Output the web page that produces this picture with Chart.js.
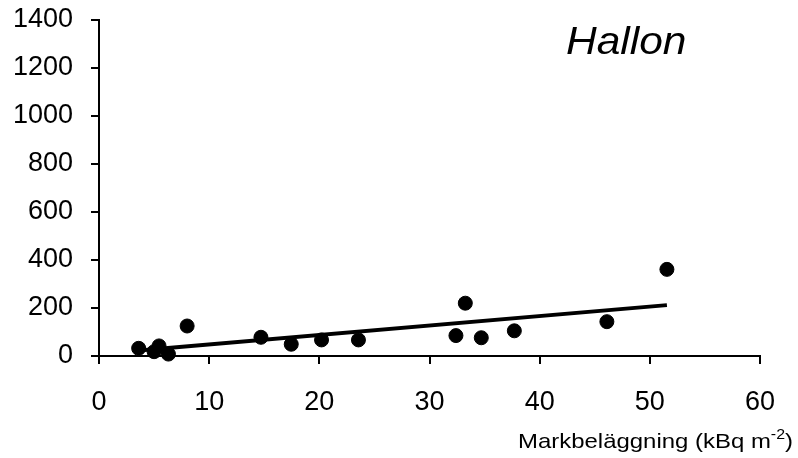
<!DOCTYPE html>
<html>
<head>
<meta charset="utf-8">
<script src="https://cdn.jsdelivr.net/npm/chart.js@4/dist/chart.umd.min.js"></script>
<style>
  html, body { margin: 0; padding: 0; background: #fff; }
  #wrap { width: 798px; height: 458px; position: relative; }
</style>
</head>
<body>
<div id="wrap"><canvas id="myChart"></canvas></div>
<script>
// Markbeläggning (kBq m-2) against activity in hallon
var xValues = [3.6, 5.0, 5.45, 6.3, 8.0, 14.7, 17.45, 20.2, 23.55, 32.4, 33.25, 34.7, 37.7, 46.1, 51.55];
var yValues = [32, 18, 42, 8, 125, 78, 49, 67, 67, 85, 220, 76, 105, 143, 361];

// end points of the fitted trend line
var trendX = [3.6, 51.55];
var trendY = [23, 212];

var xTicks = [0, 10, 20, 30, 40, 50, 60];
var yTicks = [0, 200, 400, 600, 800, 1000, 1200, 1400];

var FONT = "'Liberation Sans', Arial, sans-serif";

var points = xValues.map(function (x, i) { return { x: x, y: yValues[i] }; });
var trend = trendX.map(function (x, i) { return { x: x, y: trendY[i] }; });

// title and axis caption (with superscript) drawn on top
var labelsPlugin = {
	id: 'labels',
	afterDraw: function (chart) {
		var ctx = chart.ctx;
		ctx.save();
		ctx.fillStyle = '#000';
		ctx.textBaseline = 'alphabetic';
		ctx.textAlign = 'left';

		// slightly wide lettering
		ctx.save();
		ctx.translate(566, 54);
		ctx.scale(1.09, 1);
		ctx.font = 'italic 39px ' + FONT;
		ctx.fillText('Hallon', 0, 0);
		ctx.restore();

		var main = 'Markbeläggning (kBq m';
		var sup = '-2';
		var end = ')';
		var big = '21px ' + FONT, small = '14px ' + FONT;
		var sx = 1.14;
		ctx.font = big;
		var w1 = ctx.measureText(main).width, w3 = ctx.measureText(end).width;
		ctx.font = small;
		var w2 = ctx.measureText(sup).width;
		var total = (w1 + w2 + w3) * sx;
		ctx.translate(793 - total, 448);
		ctx.scale(sx, 1);
		ctx.font = big;
		ctx.fillText(main, 0, 0);
		ctx.font = small;
		ctx.fillText(sup, w1, -9);
		ctx.font = big;
		ctx.fillText(end, w1 + w2, 0);
		ctx.restore();
	}
};

var mixedChart = new Chart("myChart", {
	type : 'scatter',
	data : {
		datasets : [ {
			label : 'Hallon',
			data : points,
			backgroundColor : '#000',
			borderColor : '#000',
			pointRadius : 7,
			pointHoverRadius : 7,
			clip : 10,
			order : 1
		}, {
			label : 'Trend',
			data : trend,
			type : 'line',
			showLine : true,
			borderColor : '#000',
			borderWidth : 4,
			pointRadius : 0,
			fill : false,
			clip : 10,
			order : 2
		} ]
	},
	options : {
		responsive : true,
		maintainAspectRatio : false,
		animation : false,
		events : [],
		layout : { padding : { top : 20, right : 38, left : 0, bottom : 0 } },
		plugins : {
			legend : { display : false },
			title : { display : false },
			tooltip : { enabled : false }
		},
		scales : {
			x : {
				type : 'linear',
				min : 0,
				max : 60,
				afterBuildTicks : function (scale) {
					scale.ticks = xTicks.map(function (v) { return { value : v }; });
				},
				afterFit : function (scale) { scale.height = 102; },
				border : { display : true, color : '#000', width : 2 },
				grid : { drawOnChartArea : false, drawTicks : true, tickLength : 8, color : '#000', lineWidth : 2 },
				ticks : {
					color : '#000', font : { family : FONT, size : 27 }, padding : 22, maxRotation : 0,
					callback : function (v) { return String(v); }
				}
			},
			y : {
				type : 'linear',
				min : 0,
				max : 1400,
				afterBuildTicks : function (scale) {
					scale.ticks = yTicks.map(function (v) { return { value : v }; });
				},
				afterFit : function (scale) {
					scale.width = 99;
					// let the top label hang above the plot area
					scale.paddingTop = 0;
					scale.paddingBottom = 0;
				},
				border : { display : true, color : '#000', width : 2 },
				grid : { drawOnChartArea : false, drawTicks : true, tickLength : 8, color : '#000', lineWidth : 2 },
				ticks : {
					color : '#000', font : { family : FONT, size : 27 }, padding : 18,
					callback : function (v) { return String(v); }
				}
			}
		}
	},
	plugins : [ labelsPlugin ]
});
</script>
</body>
</html>
